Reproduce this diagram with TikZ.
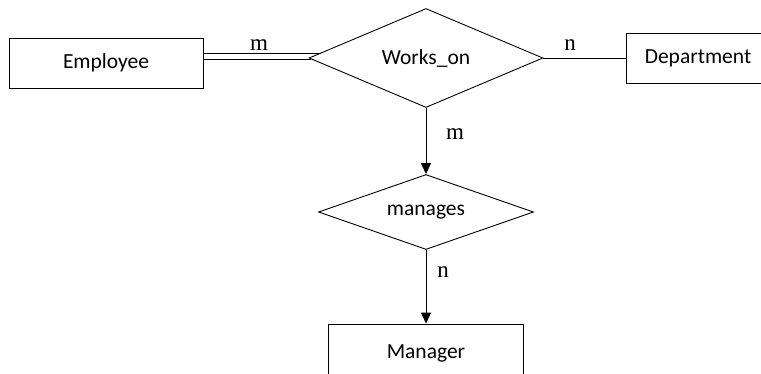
\documentclass[tikz,border=0pt]{standalone}
\usepackage{fontspec}
\setmainfont{Carlito}
\newfontfamily\lblfont{Liberation Serif}
\usetikzlibrary{shapes.geometric,arrows.meta}
\begin{document}
\begin{tikzpicture}[x=1pt,y=-1pt,
  entity/.style={draw,line width=0.9pt,minimum height=50pt,inner sep=0pt,font=\fontsize{21.5}{24}\selectfont},
  rel/.style={draw,diamond,line width=0.9pt,inner sep=0pt,font=\fontsize{21.5}{24}\selectfont},
  conn/.style={line width=0.9pt},
  card/.style={font=\lblfont\fontsize{23}{26}\selectfont,inner sep=0pt},
  arr/.style={conn,-{Triangle[width=10pt,length=11pt]}}]
\useasboundingbox (0,0) rectangle (761,373);
\clip (0,0) rectangle (761,373);
\node[entity,minimum width=194pt] (Employee) at (106,63) {Employee};
\node[entity,minimum width=144pt] (Department) at (698,58) {Department};
\node[entity,minimum width=195pt,minimum height=60pt,text depth=0pt] (Manager) at (426,354) {\raisebox{5pt}{Manager}};
\node[rel,aspect=2.35,minimum width=234pt,minimum height=99pt] (Works) at (426,58) {Works\_on};
\node[rel,aspect=2.9,minimum width=215pt,minimum height=75pt] (manages) at (426,212) {manages};
\draw[conn] ([yshift=10pt]Employee.east) -- ([xshift=12pt,yshift=5pt]Works.west);
\draw[conn] ([yshift=4pt]Employee.east) -- ([xshift=2pt,yshift=-1pt]Works.west);
\draw[conn] (Works.east) -- (Department.west);
\draw[arr] (Works.south) -- (manages.north);
\draw[arr] (manages.south) -- (Manager.north);
\node[card] (c1) at (259,45) {m};
\node[card] (c2) at (570,45) {n};
\node[card] (c3) at (455,134) {m};
\node[card] (c4) at (443,272) {n};
\end{tikzpicture}
\end{document}
